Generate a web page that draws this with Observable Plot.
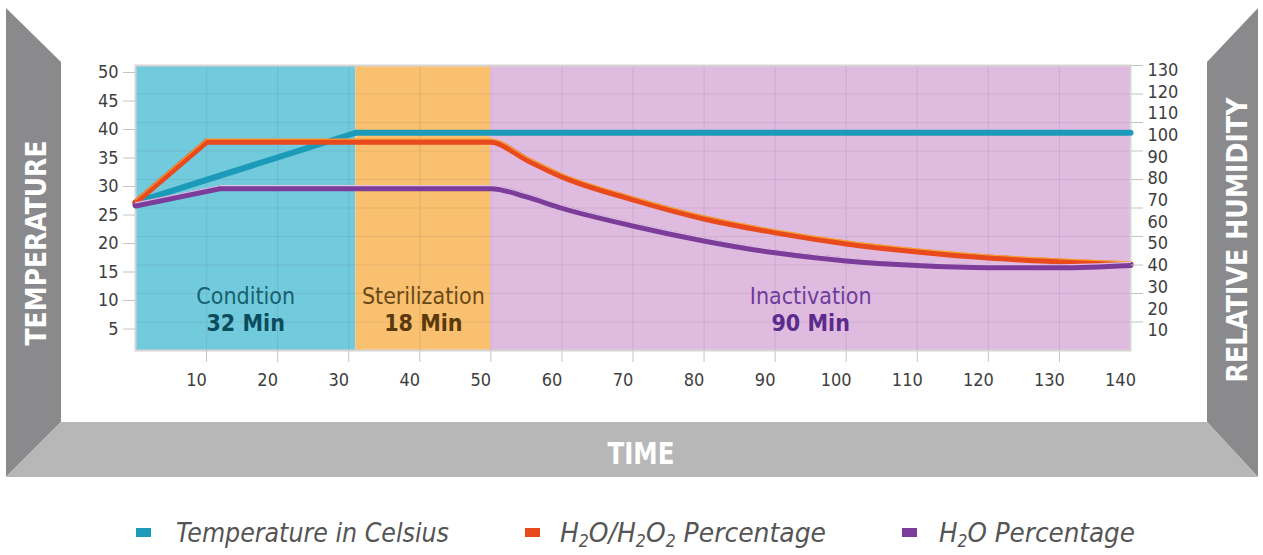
<!DOCTYPE html>
<html><head><meta charset="utf-8">
<script src="https://cdn.jsdelivr.net/npm/d3@7"></script>
<script src="https://cdn.jsdelivr.net/npm/@observablehq/plot@0.6"></script>
<style>
html,body{margin:0;padding:0;background:#fff;}
#wrap{position:relative;width:1263px;height:555px;overflow:hidden;font-family:"Liberation Sans Narrow","DejaVu Sans Condensed","Roboto",sans-serif;}
#frame,#chart,#legend{position:absolute;left:0;top:0;}
#chart svg{background:transparent !important;}
</style></head>
<body><div id="wrap">
<svg id="frame" width="1263" height="555"></svg>
<div id="chart"></div>
<svg id="legend" width="1263" height="555" style="top:0;pointer-events:none"></svg>
</div>
<script>
// ---- data ----
const phaseNames = ["Condition", "Sterilization", "Inactivation"];
const phaseDurations = ["32 Min", "18 Min", "90 Min"];
const phaseStart = [0, 31, 50];
const phaseEnd = [31, 50, 140];

const tempTime = [0, 31, 140];
const tempValues = [26.0, 38.2, 38.2];

const peroxideTime = [0, 10, 50, 55, 60, 70, 80, 90, 100, 110, 120, 130, 140];
const peroxideHumidity = [69, 97, 97, 88.8, 81.0, 70.4, 61.6, 55.2, 50.1, 46.4, 43.6, 41.8, 40.4];

const waterTime = [0, 12, 50, 55, 60, 70, 80, 90, 100, 110, 120, 130, 140];
const waterHumidity = [67.6, 75.6, 75.6, 71.8, 66.6, 58.4, 51.5, 46.0, 42.3, 40.2, 39.2, 39.1, 40.2];

const xTicks = [10, 20, 30, 40, 50, 60, 70, 80, 90, 100, 110, 120, 130];
const xLabels = [10, 20, 30, 40, 50, 60, 70, 80, 90, 100, 110, 120, 130, 140];
const tempTicks = [5, 10, 15, 20, 25, 30, 35, 40, 45, 50];
const humidityTicks = [10, 20, 30, 40, 50, 60, 70, 80, 90, 100, 110, 120, 130];

const seriesNames = ["Temperature in Celsius", "H2O/H2O2 Percentage", "H2O Percentage"];
const seriesColors = ["#1c9aba", "#e84a1e", "#7b3d99"];
const phaseFills = ["#72cbdc", "#f9c06f", "#dfbbdf"];
const phaseNameColors = ["#16606f", "#6a4815", "#6c3d9d"];
const phaseDurColors = ["#0c4d5d", "#5a3a0c", "#5c2a8c"];

// ---- derived tables ----
const phases = phaseNames.map((n, i) => ({name: n, dur: phaseDurations[i], x1: phaseStart[i], x2: phaseEnd[i], i}));
const humToTemp = d3.scaleLinear([0, 130], [-0.3, 49.2]); // right axis (relative humidity) onto left (temperature) scale
const temp = tempTime.map((t, i) => ({t, v: tempValues[i]}));
const perox = peroxideTime.map((t, i) => ({t, v: humToTemp(peroxideHumidity[i])}));
const water = waterTime.map((t, i) => ({t, v: humToTemp(waterHumidity[i])}));
const peroxA = perox.slice(0, 2), peroxB = perox.slice(1);
const waterA = water.slice(0, 2), waterB = water.slice(1);

const FONT = '"Liberation Sans Narrow","DejaVu Sans Condensed","Roboto",sans-serif';

function lineSet(a, b, color, hl) {
  const marks = [];
  for (const [d, curve] of [[a, "linear"], [b, "monotone-x"]]) {
    marks.push(Plot.line(d, {x: "t", y: "v", curve, stroke: "#2a1030", strokeOpacity: 0.28, strokeWidth: 7, dy: 3, ariaLabel: "shadow"}));
  }
  for (const [d, curve] of [[a, "linear"], [b, "monotone-x"]]) {
    marks.push(Plot.line(d, {x: "t", y: "v", curve, stroke: color, strokeWidth: 6}));
  }
  if (hl) for (const [d, curve] of [[a, "linear"], [b, "monotone-x"]]) {
    marks.push(Plot.line(d, {x: "t", y: "v", curve, stroke: hl, strokeWidth: 1.2, strokeOpacity: 0.8, dy: -2.6}));
  }
  return marks;
}

const chart = Plot.plot({
  width: 1263, height: 400,
  marginLeft: 135, marginRight: 133, marginTop: 65, marginBottom: 50,
  style: {background: "transparent", fontFamily: FONT, overflow: "visible"},
  x: {domain: [0, 140], axis: null},
  y: {domain: [0, 50], axis: null},
  marks: [
    Plot.rectX(phases, {x1: "x1", x2: "x2", fill: d => phaseFills[d.i]}),
    Plot.ruleX(xTicks, {stroke: "#5a3a6a", strokeOpacity: 0.1, strokeWidth: 1.2}),
    Plot.ruleY(tempTicks, {stroke: "#5a3a6a", strokeOpacity: 0.1, strokeWidth: 1.2}),
    Plot.frame({stroke: "#d6d6d6", strokeWidth: 2}),
    // phase labels
    Plot.text(phases, {x: d => (d.x1 + d.x2) / 2, text: "name", frameAnchor: "bottom", lineAnchor: "middle", dy: -54, fontSize: 23, fill: d => phaseNameColors[d.i]}),
    Plot.text(phases, {x: d => (d.x1 + d.x2) / 2, text: "dur", frameAnchor: "bottom", lineAnchor: "middle", dy: -27, fontSize: 23, fontWeight: "bold", fill: d => phaseDurColors[d.i]}),
    // lines
    ...lineSet([temp[0], temp[1]], temp.slice(1), seriesColors[0], null),
    ...lineSet(peroxA, peroxB, seriesColors[1], "#f8b53a"),
    ...lineSet(waterA, waterB, seriesColors[2], "#f6dcf2"),
    // axes
    Plot.axisY(tempTicks, {anchor: "left", tickSize: 12, tickPadding: 5, dy: 7, fontSize: 18, stroke: "#c4c4c4", fill: "#3e3e3e", label: null}),
    Plot.axisY(tempTicks, {anchor: "right", tickSize: 12, tickFormat: () => "", stroke: "#c4c4c4", label: null}),
    Plot.text(humidityTicks, {frameAnchor: "right", y: d => humToTemp(d), text: d => String(d), dx: 17, textAnchor: "start", fontSize: 18, fill: "#3e3e3e"}),
    Plot.axisX(xTicks, {anchor: "bottom", tickSize: 12, tickFormat: () => "", stroke: "#c4c4c4", label: null}),
    Plot.axisX(xLabels, {anchor: "bottom", tickSize: 0, tickPadding: 23, dx: -10, fontSize: 18, fill: "#3e3e3e", label: null})
  ]
});
document.getElementById("chart").appendChild(chart);

// blur filter for shadows
const svgSel = d3.select(chart);
const defs = svgSel.insert("defs", ":first-child");
defs.append("filter").attr("id", "lineShadow").attr("x", "-5%").attr("y", "-20%").attr("width", "110%").attr("height", "140%")
  .append("feGaussianBlur").attr("stdDeviation", 1.6);
svgSel.selectAll('g[aria-label="shadow"]').attr("filter", "url(#lineShadow)");

// ---- decorative frame ----
const fr = d3.select("#frame");
fr.append("polygon").attr("points", "6,8 61,62 61,422 6,477").attr("fill", "#8a8a8d");
fr.append("polygon").attr("points", "1258,8 1207,62 1207,422 1258,477").attr("fill", "#8a8a8d");
fr.append("polygon").attr("points", "6,477 61,422 1207,422 1258,477").attr("fill", "#b7b7b7");
function title(txt, x, y, len, rot, size) {
  fr.append("text").attr("transform", `translate(${x},${y}) rotate(${rot})`)
    .attr("text-anchor", "middle").attr("dominant-baseline", "central")
    .attr("font-family", FONT).attr("font-weight", "bold").attr("font-size", size)
    .attr("fill", "#fff").attr("textLength", len).attr("lengthAdjust", "spacingAndGlyphs").text(txt);
}
title("TEMPERATURE", 36, 243, 205, -90, 29);
title("RELATIVE HUMIDITY", 1237, 240, 285, -90, 29);
title("TIME", 641, 453, 67, 0, 30);

// ---- legend ----
const lg = d3.select("#legend");
const legendX = [136, 525, 902];
const legendTextX = [176, 560, 939];
const legendLen = [273, 266, 196];
seriesNames.forEach((name, i) => {
  lg.append("rect").attr("x", legendX[i]).attr("y", 528).attr("width", 15).attr("height", 9).attr("fill", seriesColors[i]);
  const t = lg.append("text").attr("x", legendTextX[i]).attr("y", 542)
    .attr("font-family", FONT).attr("font-style", "italic").attr("font-size", 27).attr("fill", "#555")
    .attr("textLength", legendLen[i]).attr("lengthAdjust", "spacingAndGlyphs");
  const parts = name.split(/(2)/);
  parts.forEach(p => {
    if (p === "2") t.append("tspan").attr("baseline-shift", "-28%").attr("font-size", 17).text("2");
    else if (p) t.append("tspan").text(p);
  });
});
</script>
</body></html>
